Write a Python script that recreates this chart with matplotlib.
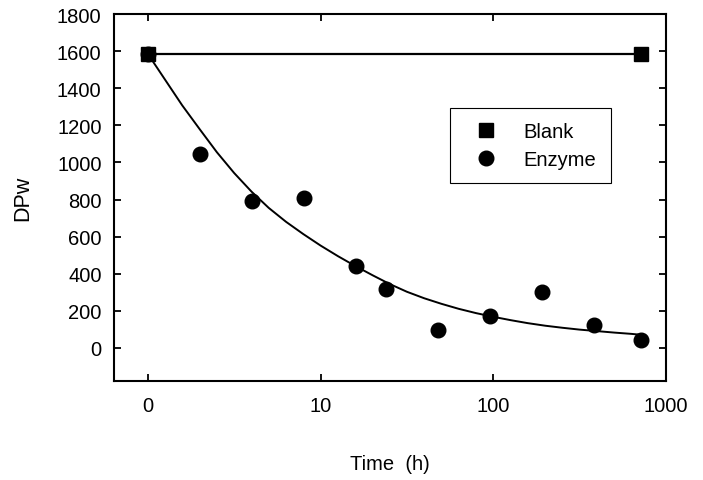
import numpy as np
import matplotlib
matplotlib.use("Agg")
import matplotlib.pyplot as plt

plt.rcParams['font.family'] = ['Liberation Sans', 'DejaVu Sans']

# sampling times (h); 0 h is drawn at the "0" tick placed at 1 on the log axis
time_h = np.array([0, 2, 4, 8, 16, 24, 48, 96, 192, 384, 720])
enzyme_dpw = np.array([1585, 1045, 794, 806, 441, 317, 97, 172, 303, 124, 45])

blank_time = np.array([0, 720])
blank_dpw = np.array([1585, 1585])

# fitted decay curve
fit_time = np.array([0, 1.26, 1.58, 2.0, 2.51, 3.16, 3.98, 5.01, 6.31, 7.94,
                     10, 12.6, 15.8, 20, 25.1, 31.6, 39.8, 50.1, 63.1, 79.4,
                     100, 126, 158, 200, 251, 316, 398, 501, 631, 720])
fit_dpw = np.array([1585, 1445, 1308, 1178, 1055, 943, 843, 755, 680, 614,
                    552, 495, 443, 392, 345, 303, 268, 238, 211, 188,
                    168, 150, 134, 120, 109, 99, 91, 83, 76, 71])

x_ticks = [1, 10, 100, 1000]
x_tick_labels = ['0', '10', '100', '1000']
y_ticks = np.arange(0, 1801, 200)


def to_axis(t):
    # zero time sits at the first decade mark
    t = np.asarray(t, dtype=float)
    return np.where(t == 0, 1.0, t)


fig = plt.figure(figsize=(7.03, 4.81), dpi=100)
ax = fig.add_axes([0.1622, 0.2058, 0.7852, 0.763])

ax.plot(to_axis(fit_time), fit_dpw, color='black', lw=1.4, zorder=2)
ax.plot(to_axis(blank_time), blank_dpw, color='black', lw=1.6, zorder=2)
ax.plot(to_axis(time_h), enzyme_dpw, 'o', color='black', ms=10.5,
        label='Enzyme', zorder=3)
ax.plot(to_axis(blank_time), blank_dpw, 's', color='black', ms=10.5,
        label='Blank', zorder=4)

ax.set_xscale('log')
ax.set_xlim(0.637, 1000)
ax.set_ylim(-178, 1800)
ax.set_xticks(x_ticks)
ax.set_xticklabels(x_tick_labels)
ax.minorticks_off()
ax.set_yticks(y_ticks)

ax.tick_params(direction='in', length=5, width=1.3, top=True, right=True,
               labeltop=False, labelright=False, labelsize=14.5)
ax.tick_params(axis='x', pad=11)
ax.tick_params(axis='y', pad=9)
for s in ax.spines.values():
    s.set_linewidth(1.5)

ax.set_xlabel('Time  (h)', fontsize=14.5, labelpad=28)
ax.set_ylabel('DPw', fontsize=15.5, labelpad=17)

handles, labels = ax.get_legend_handles_labels()
leg = ax.legend(handles[::-1], labels[::-1], loc='upper left',
                bbox_to_anchor=(0.609, 0.744), fontsize=14.5, frameon=True,
                fancybox=False, edgecolor='black', framealpha=1,
                borderpad=0.7, handletextpad=0.75, labelspacing=0.45,
                handlelength=2.2, borderaxespad=0)
leg.get_frame().set_linewidth(0.8)

fig.savefig('out.png', dpi=100)
